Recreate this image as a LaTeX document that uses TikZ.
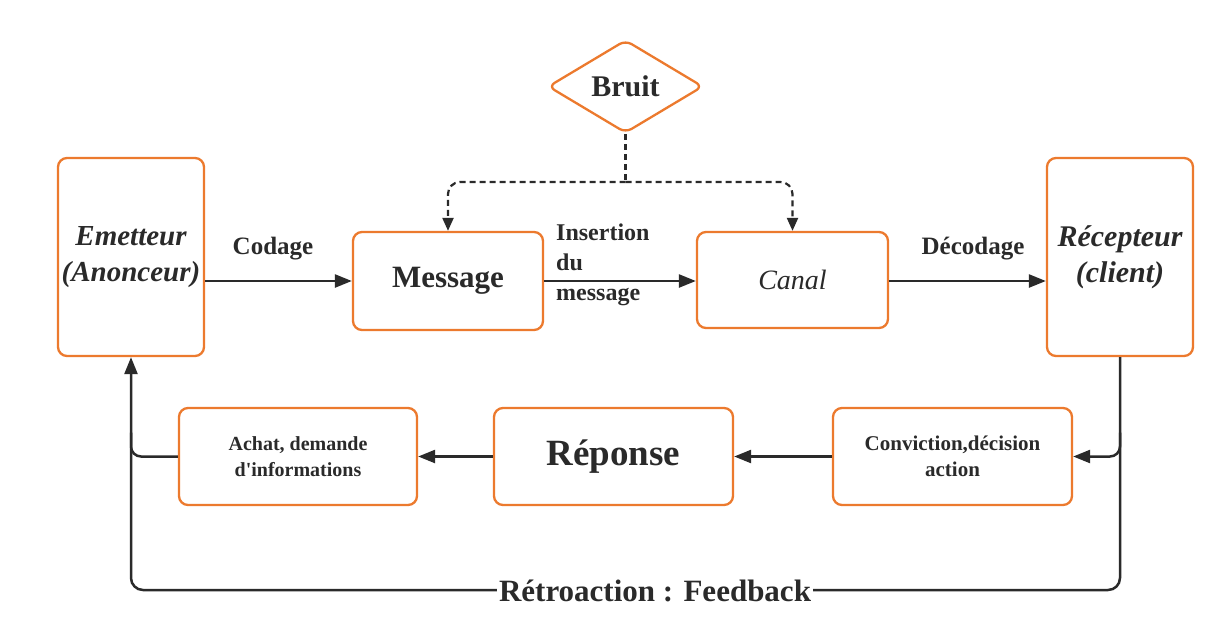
\documentclass[tikz,border=0pt]{standalone}
\usepackage{fontspec}
\setmainfont{Liberation Serif}
\usetikzlibrary{shapes.geometric,arrows.meta,calc}
\definecolor{boxor}{HTML}{EC7A2E}
\definecolor{ink}{HTML}{2A2A2A}
\tikzset{
  box/.style={draw=boxor, line width=2.3pt, rounded corners=9pt, fill=white, align=center, text=ink, inner sep=2pt},
  conn/.style={draw=ink, line width=2.5pt},
  arr/.style={conn, -{Triangle[length=17pt,width=13pt]}},
  lbl/.style={text=ink, font=\bfseries\fontsize{25}{28}\selectfont, inner sep=0pt},
  dsh/.style={conn, line width=2.2pt, dash pattern=on 6pt off 4pt},
}
\begin{document}
\begin{tikzpicture}[x=1pt,y=-1pt]
\useasboundingbox (0,0) rectangle (1209,637);
% nodes
\node[box, minimum width=146pt, minimum height=198pt, font=\bfseries\itshape\fontsize{29}{36}\selectfont] (emit) at (131,257) {Emetteur\\(Anonceur)};
\node[box, minimum width=190pt, minimum height=98pt, font=\bfseries\fontsize{31}{36}\selectfont] (msg) at (448,281) {Message};
\node[box, minimum width=191pt, minimum height=96pt, font=\itshape\fontsize{28}{34}\selectfont] (canal) at (792.5,280) {Canal};
\node[box, minimum width=146pt, minimum height=198pt, font=\bfseries\itshape\fontsize{30}{36}\selectfont] (recep) at (1120,257) {Récepteur\\(client)};
\node[box, minimum width=238pt, minimum height=97pt, font=\bfseries\fontsize{20}{26}\selectfont] (achat) at (298,456.5) {Achat, demande\\d\textquotesingle informations};
\node[box, minimum width=239pt, minimum height=97pt, font=\bfseries\fontsize{37}{42}\selectfont] (rep) at (613.5,456.5) {Réponse};
\node[box, minimum width=239pt, minimum height=97pt, font=\bfseries\fontsize{21}{26}\selectfont] (conv) at (952.5,456.5) {Conviction,décision\\action};
\node[draw=boxor, line width=2.3pt, diamond, minimum width=155pt, minimum height=93pt, inner sep=0pt, rounded corners=7pt, fill=white, text=ink, font=\bfseries\fontsize{30}{34}\selectfont] (bruit) at (625.5,86.5) {Bruit};
% noise
\coordinate (j) at (625.5,182);
\draw[dsh] (bruit.south) -- (j);
\draw[dsh, rounded corners=12pt, -{Triangle[length=13pt,width=11pt]}] (j) -| (msg.north);
\draw[dsh, rounded corners=12pt, -{Triangle[length=13pt,width=11pt]}] (j) -| (canal.north);
% main flow
\draw[arr] (emit.east |- msg.west) -- (msg.west);
\node[lbl] (codage) at (273,249) {Codage};
\draw[arr] (msg.east) -- (canal.west |- msg.east);
\node[lbl, align=left, anchor=north west, font=\bfseries\fontsize{24}{30}\selectfont] (ins) at (556,224) {Insertion\\du\\message};
\draw[arr] (canal.east |- msg.east) -- (recep.west |- msg.east);
\node[lbl] (deco) at (973,249) {Décodage};
% return flow
\draw[arr] (conv.west) -- (rep.east);
\draw[arr] (rep.west) -- (achat.east);
\coordinate (bl) at (emit.south |- 0,590);
\coordinate (br) at (recep.south |- 0,590);
\draw[arr, rounded corners=12pt] (recep.south) -- (br) -- (bl) -- (emit.south);
\draw[arr, rounded corners=10pt] ($(recep.south |- conv.east)+(0,-24)$) |- (conv.east);
\draw[conn, rounded corners=10pt] (achat.west) -| ($(emit.south |- achat.west)+(0,-24)$);
\node[lbl, fill=white, inner xsep=2pt, inner ysep=3pt, font=\bfseries\fontsize{31}{34}\selectfont] (fb) at (655,591) {Rétroaction : Feedback};
\end{tikzpicture}
\end{document}
